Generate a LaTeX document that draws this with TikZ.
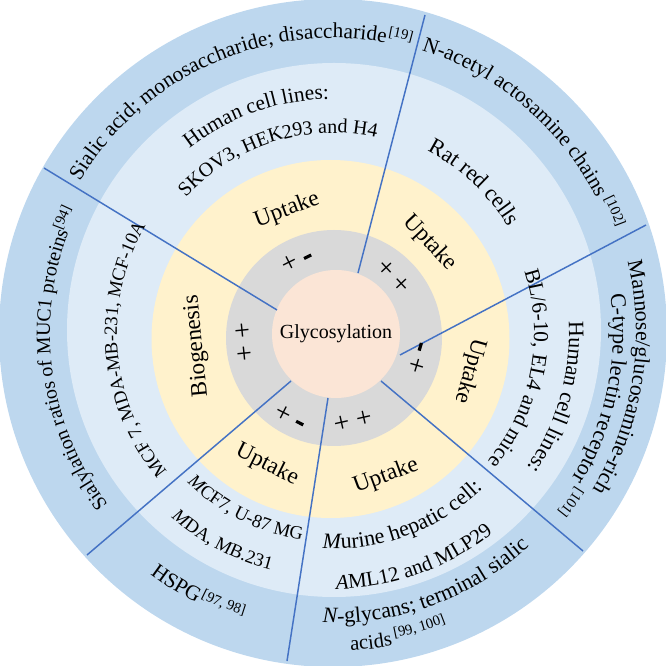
\documentclass[tikz,border=0pt]{standalone}
\usepackage{fontspec}
\setmainfont{Liberation Serif}
\usetikzlibrary{decorations.text}
\definecolor{outerblue}{HTML}{BDD7EE}
\definecolor{lightbluering}{HTML}{DEEBF7}
\definecolor{yellowring}{HTML}{FFF2CC}
\definecolor{grayring}{HTML}{D9D9D9}
\definecolor{pinkcore}{HTML}{FBE5D6}
\definecolor{dividerblue}{HTML}{4472C4}
% centred text on an arc about the origin
% #1 font size (pt), #2 baseline radius, #3 mid angle, #4 direction (-1 clockwise/top, 1 counterclockwise/bottom), #5 text
\newcommand\arctext[5]{%
  \pgfmathsetmacro\atstart{#3-(#4)*80}%
  \pgfmathsetmacro\atdelta{(#4)*160}%
  \path[decorate,decoration={text along path,text align=center,text={|\fontsize{#1pt}{#1pt}\selectfont|#5}}]
     (\atstart:#2) arc[start angle=\atstart,delta angle=\atdelta,radius=#2];}
% superscript citation starting at a given angle
% #1 radius, #2 start angle, #3 direction, #4 text
\newcommand\citetext[4]{%
  \pgfmathsetmacro\ctdelta{(#3)*40}%
  \path[decorate,decoration={text along path,text={|\fontsize{11pt}{11pt}\selectfont|#4}}]
     (#2:#1) arc[start angle=#2,delta angle=\ctdelta,radius=#1];}
\newcommand\minusbar{\rule[4pt]{6pt}{2.4pt}}
\tikzset{
  divider/.style={draw=dividerblue, line width=1.1pt},
  yellowlabel/.style={font=\fontsize{17.5pt}{17.5pt}\selectfont, inner sep=0pt},
  signlabel/.style={font=\fontsize{21pt}{21pt}\selectfont, inner sep=0pt},
  corelabel/.style={circle, fill=pinkcore, minimum size=96pt, inner sep=0pt, font=\fontsize{15pt}{15pt}\selectfont},
}
\begin{document}
\begin{tikzpicture}[x=0.75pt,y=0.75pt]
\useasboundingbox (-333,-333) rectangle (333,333);
% rings
\fill[outerblue] (0,0) circle[radius=334];
\fill[lightbluering] (1,3) circle[radius=267];
\fill[yellowring] (-2.5,-6) circle[radius=179];
\fill[grayring] (1,-5) circle[radius=108];
\node[corelabel] (glyco) at (3,-1) {Glycosylation};
% dividers
\coordinate (d1in) at (-56,23);   \coordinate (d1out) at (-289,165);
\coordinate (d2in) at (25,60);    \coordinate (d2out) at (92,318);
\coordinate (d3in) at (67,-22);   \coordinate (d3out) at (313,108);
\coordinate (d4in) at (48,-48);   \coordinate (d4out) at (250,-218);
\coordinate (d5in) at (-5,-65);   \coordinate (d5out) at (-46,-328);
\coordinate (d6in) at (-42,-48);  \coordinate (d6out) at (-246,-222);
\draw[divider] (d1in) -- (d1out);
\draw[divider] (d2in) -- (d2out);
\draw[divider] (d3in) -- (d3out);
\draw[divider] (d4in) -- (d4out);
\draw[divider] (d5in) -- (d5out);
\draw[divider] (d6in) -- (d6out);
% gray ring signs
\node[signlabel, rotate=26.6] (s1) at (-36,72) {+ \minusbar};
\node[signlabel, rotate=-47] (s2) at (60,56) {+ +};
\node[signlabel, rotate=-106.4] (s3) at (85,-25) {\minusbar{} +};
\node[signlabel, rotate=12.7] (s4) at (20,-89) {+ +};
\node[signlabel, rotate=-27.1] (s5) at (-43,-84) {+ \minusbar};
\node[signlabel, rotate=95.8] (s6) at (-88,-9) {+ +};
% yellow ring labels
\node[yellowlabel, rotate=20.5] (y1) at (-46,123) {Uptake};
\node[yellowlabel, rotate=-47] (y2) at (97,90) {Uptake};
\node[yellowlabel, rotate=-105.5] (y3) at (137,-38) {Uptake};
\node[yellowlabel, rotate=20.3] (y4) at (53,-143) {Uptake};
\node[yellowlabel, rotate=-26.6] (y5) at (-66,-132) {Uptake};
\node[yellowlabel, rotate=95.5] (y6) at (-136,-13) {Biogenesis};
% light blue ring texts
\arctext{16}{234}{109.4}{-1}{Human cell lines:}
\arctext{15}{200}{107.4}{-1}{SKOV3, HEK293 and H4}
\arctext{17}{205}{46.9}{-1}{Rat red cells}
\arctext{16.5}{236}{-16}{-1}{Human cell lines:}
\arctext{16}{201}{-11}{-1}{BL/6-10, EL4 and mice}
\arctext{14}{216}{185}{-1}{MCF 7, MDA-MB-231, MCF-10A}
\arctext{16.5}{216}{-69.4}{1}{|\fontsize{16.5pt}{16.5pt}\selectfont\itshape|M|\fontsize{16.5pt}{16.5pt}\selectfont\upshape|urine hepatic cell:}
\arctext{15.7}{256}{-70.3}{1}{|\fontsize{15.7pt}{15.7pt}\selectfont\itshape|A|\fontsize{15.7pt}{15.7pt}\selectfont\upshape|ML12 and MLP29}
\arctext{14}{209}{243.6}{1}{|\fontsize{14pt}{14pt}\selectfont\itshape|M|\fontsize{14pt}{14pt}\selectfont\upshape|CF7, U-87 MG}
\arctext{14}{245}{242}{1}{|\fontsize{14pt}{14pt}\selectfont\itshape|M|\fontsize{14pt}{14pt}\selectfont\upshape|DA, MB.231}
% outer ring texts
\arctext{16}{295}{114.4}{-1}{Sialic acid; monosaccharide; disaccharide}
\citetext{302}{79.5}{-1}{[19]}
\arctext{16}{296}{49.9}{-1}{N-acetyl actosamine chains}
\citetext{303}{26.4}{-1}{[102]}
\arctext{16.3}{303}{-8.8}{-1}{Mannose/glucosamine-rich}
\arctext{16.5}{280}{-11.7}{-1}{C-type lectin receptor}
\citetext{288}{-32.3}{-1}{[101]}
\arctext{16.5}{290}{-69.7}{1}{|\fontsize{16.5pt}{16.5pt}\selectfont\itshape|N|\fontsize{16.5pt}{16.5pt}\selectfont\upshape|-glycans; terminal sialic}
\arctext{15.5}{318}{-83}{1}{acids}
\citetext{311}{-78.6}{1}{[99, 100]}
\arctext{16}{302.5}{238}{1}{HSPG}
\citetext{296}{243.5}{1}{[97, 98]}
\arctext{15}{283}{188.2}{-1}{Sialylation ratios of MUC1 proteins}
\citetext{290}{159.3}{-1}{[94]}
\end{tikzpicture}
\end{document}
